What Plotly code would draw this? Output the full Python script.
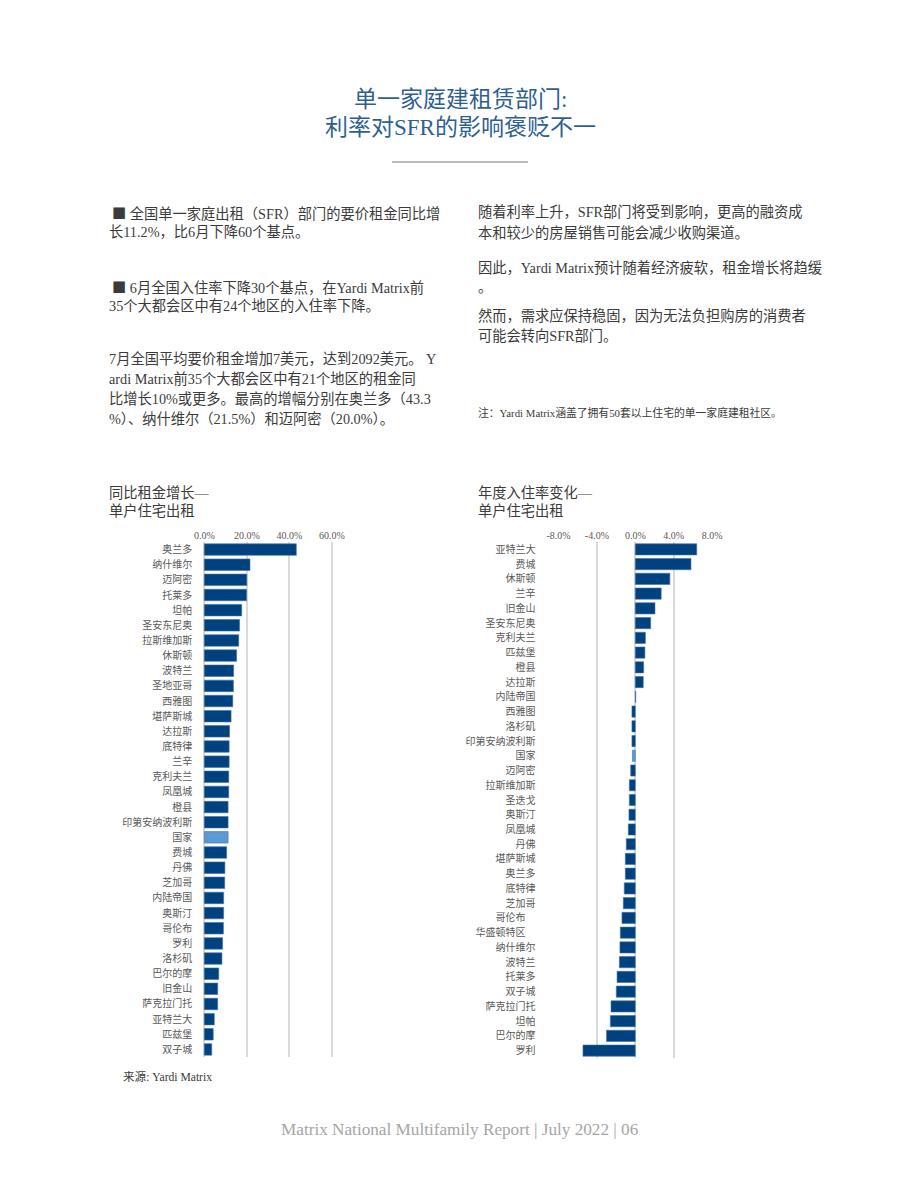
import plotly.graph_objects as go

# ---------------- data ----------------
left_cities = ["奥兰多", "纳什维尔", "迈阿密", "托莱多", "坦帕", "圣安东尼奥", "拉斯维加斯", "休斯顿",
               "波特兰", "圣地亚哥", "西雅图", "堪萨斯城", "达拉斯", "底特律", "兰辛", "克利夫兰",
               "凤凰城", "橙县", "印第安纳波利斯", "国家", "费城", "丹佛", "芝加哥", "内陆帝国",
               "奥斯汀", "哥伦布", "罗利", "洛杉矶", "巴尔的摩", "旧金山", "萨克拉门托", "亚特兰大",
               "匹兹堡", "双子城"]
left_values = [43.3, 21.5, 20.0, 19.9, 17.6, 16.6, 16.2, 15.2,
               13.8, 13.7, 13.4, 12.6, 11.9, 11.7, 11.7, 11.5,
               11.5, 11.2, 11.2, 11.2, 10.5, 9.7, 9.6, 9.1,
               9.1, 9.0, 8.6, 8.3, 6.8, 6.3, 6.3, 4.7,
               4.2, 3.5]
left_tickvals = [0, 20, 40, 60]
left_ticktext = ["0.0%", "20.0%", "40.0%", "60.0%"]

right_cities = ["亚特兰大", "费城", "休斯顿", "兰辛", "旧金山", "圣安东尼奥", "克利夫兰", "匹兹堡",
                "橙县", "达拉斯", "内陆帝国", "西雅图", "洛杉矶", "印第安纳波利斯", "国家", "迈阿密",
                "拉斯维加斯", "圣迭戈", "奥斯汀", "凤凰城", "丹佛", "堪萨斯城", "奥兰多", "底特律",
                "芝加哥", "哥伦布\u3000", "华盛顿特区\u3000", "纳什维尔", "波特兰", "托莱多", "双子城",
                "萨克拉门托", "坦帕", "巴尔的摩", "罗利"]
right_values = [6.4, 5.8, 3.6, 2.7, 2.05, 1.6, 1.05, 1.0,
                0.87, 0.83, 0.05, -0.35, -0.35, -0.35, -0.3, -0.48,
                -0.62, -0.62, -0.66, -0.73, -0.94, -1.04, -1.04, -1.15,
                -1.25, -1.39, -1.56, -1.6, -1.66, -1.9, -1.98,
                -2.53, -2.6, -3.0, -5.45]
right_tickvals = [-8, -4, 0, 4, 8]
right_ticktext = ["-8.0%", "-4.0%", "0.0%", "4.0%", "8.0%"]

NATIONAL = "国家"
DARK = "#00427f"
LIGHT = "#5b9bd5"

# page geometry (browser body has an 8px margin)
PAGE_W, PAGE_H = 920, 1191
OFF = 8
W, H = PAGE_W - 2 * OFF, PAGE_H - 2 * OFF
FONT = "Liberation Serif, 'Noto Sans CJK SC', serif"
CJK = "'Noto Sans CJK SC'"
TEXT = "#3b3b3b"
AXTXT = "#595959"
BODY = 14.25


def colors(cities):
    return [LIGHT if c == NATIONAL else DARK for c in cities]


def px(x):
    return (x - OFF) / W


def py(y):
    return 1 - (y - OFF) / H


fig = go.Figure()
fig.add_trace(go.Bar(x=left_values, y=left_cities, orientation="h",
                     marker=dict(color=colors(left_cities), line=dict(color="#3f72a6", width=0.6)),
                     width=0.76, xaxis="x", yaxis="y", showlegend=False, hoverinfo="x+y"))
fig.add_trace(go.Bar(x=right_values, y=right_cities, orientation="h",
                     marker=dict(color=colors(right_cities), line=dict(color="#3f72a6", width=0.6)),
                     width=0.76, xaxis="x2", yaxis="y2", showlegend=False, hoverinfo="x+y"))

grid = dict(showgrid=True, gridcolor="#d9d9d9", gridwidth=1.5, zeroline=False,
            side="top", ticks="", tickmode="array", automargin=False,
            tickfont=dict(family=FONT, size=10, color=AXTXT), showline=False, fixedrange=True)
yax = dict(autorange="reversed", tickfont=dict(family=FONT, size=10, color=AXTXT), ticks="",
           showgrid=False, zeroline=False, automargin=False, fixedrange=True)

# left: 2.125 px per %, zero at x=204.3 ; right: 9.6 px per %, zero at x=635.3
fig.update_layout(
    width=W, height=H, autosize=False,
    margin=dict(l=0, r=0, t=0, b=0, autoexpand=False),
    paper_bgcolor="white", plot_bgcolor="white",
    font=dict(family=FONT, color=TEXT),
    xaxis=dict(domain=[px(204.3 - 1.06), px(331.8 + 1.06)], range=[-0.5, 60.5], anchor="y",
               tickvals=left_tickvals, ticktext=left_ticktext, **grid),
    yaxis=dict(domain=[py(1057), py(542)], anchor="x", ticklabelstandoff=10, **yax),
    xaxis2=dict(domain=[px(558.5 - 0.96), px(712.1 + 0.96)], range=[-8.1, 8.1], anchor="y2",
                tickvals=right_tickvals, ticktext=right_ticktext, **grid),
    yaxis2=dict(domain=[py(1058), py(542)], anchor="x2", ticklabelstandoff=21, **yax),
)

ann = []


def text(x, y, s, size=BODY, color=TEXT, xanchor="left"):
    ann.append(dict(x=px(x), y=py(y), xref="paper", yref="paper", text=s, showarrow=False,
                    xanchor=xanchor, yanchor="middle", borderpad=0,
                    font=dict(family=FONT, size=size, color=color)))


SQ = "<span style=\"font-family:" + CJK + "\">■</span>"

# title
TITLE = "#2f5f91"
text(460, 100, "单一家庭建租赁部门:", size=23, color=TITLE, xanchor="center")
text(460, 127.5, "利率对SFR的影响褒贬不一", size=23, color=TITLE, xanchor="center")

# left column
text(111, 212.5, SQ + " 全国单一家庭出租（SFR）部门的要价租金同比增")
text(108, 232.5, "长11.2%，比6月下降60个基点。")
text(111, 286, SQ + " 6月全国入住率下降30个基点，在Yardi Matrix前")
text(108, 306, "35个大都会区中有24个地区的入住率下降。")
text(108, 358, "7月全国平均要价租金增加7美元，达到2092美元。 Y")
text(108, 378.5, "ardi Matrix前35个大都会区中有21个地区的租金同")
text(108, 399, "比增长10%或更多。最高的增幅分别在奥兰多（43.3")
text(108, 419.5, "%）、纳什维尔（21.5%）和迈阿密（20.0%）。")

# right column
text(477, 212.5, "随着利率上升，SFR部门将受到影响，更高的融资成")
text(477, 232.5, "本和较少的房屋销售可能会减少收购渠道。")
text(477, 267.5, "因此，Yardi Matrix预计随着经济疲软，租金增长将趋缓")
text(477, 287.5, "。")
text(477, 315, "然而，需求应保持稳固，因为无法负担购房的消费者")
text(477, 336, "可能会转向SFR部门。")
text(477, 413, "注：Yardi Matrix涵盖了拥有50套以上住宅的单一家庭建租社区。", size=10.8)

# chart titles
text(108, 492.5, "同比租金增长—")
text(108, 511, "单户住宅出租")
text(477, 492.5, "年度入住率变化—")
text(477, 511, "单户住宅出租")

# source & footer
text(122, 1076.5, "来源: Yardi Matrix", size=11.6)
text(460, 1129.5, "Matrix National Multifamily Report | July 2022 | 06", size=17.2,
     color="#a6a6a6", xanchor="center")

fig.update_layout(annotations=ann)

fig.add_shape(type="line", xref="paper", yref="paper",
              x0=px(392), x1=px(528), y0=py(162), y1=py(162),
              line=dict(color="#a6a6a6", width=1.5))

fig.write_html("out.html")
